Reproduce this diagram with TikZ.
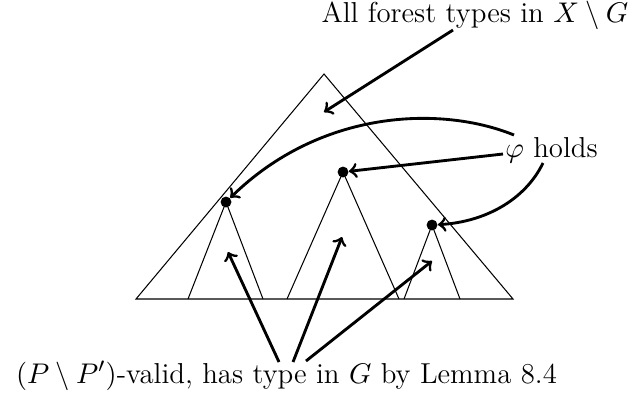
\documentclass[tikz,border=0pt]{standalone}
\begin{document}
\begin{tikzpicture}[x=0.385pt,y=-0.385pt,
  every node/.style={font=\fontsize{11.1pt}{13.5pt}\selectfont},
  lbl/.style={inner sep=0pt,anchor=base},
  thin line/.style={line width=0.4pt},
  pointer/.style={line width=1.1pt,->},
  dot/.style={circle,fill=black,inner sep=0pt,minimum size=4.2pt}]
\useasboundingbox (0,0) rectangle (634,396);
% big triangle
\coordinate (A) at (324,74);
\coordinate (BL) at (136,299);
\coordinate (BR) at (513,299);
\draw[thin line] (BL) -- (A) -- (BR) -- cycle;
% sub triangles
\node[dot] (d1) at (226,202) {};
\node[dot] (d2) at (343,172) {};
\node[dot] (d3) at (432,225) {};
\draw[thin line] (188,299) -- (d1.center) -- (263,299);
\draw[thin line] (287,299) -- (d2.center) -- (399,299);
\draw[thin line] (404,299) -- (d3.center) -- (460,299);
% labels
\node[lbl] (top) at (475,22) {All forest types in $X\setminus G$};
\node[lbl] (phi) at (551.5,157) {$\varphi$ holds};
\node[lbl] (bot) at (286.5,383) {$(P\setminus P')$-valid, has type in $G$ by Lemma 8.4};
% arrow targets
\coordinate (tA) at (324,112);
\coordinate (t1) at (228,252);
\coordinate (t2) at (342,237);
\coordinate (t3) at (432,261);
\coordinate (s0) at (453,30);
\coordinate (s1) at (514,135);
\coordinate (s2) at (503,154);
\coordinate (s3) at (543,163);
\coordinate (b1) at (279,362);
\coordinate (b2) at (293,362);
\coordinate (b3) at (306,361);
% arrows
\draw[pointer] (s0) -- (tA);
\draw[pointer] (s1) .. controls (440,105) and (320,110) .. (d1);
\draw[pointer] (s2) -- (d2);
\draw[pointer] (s3) .. controls (525,200) and (485,222) .. (d3);
\draw[pointer] (b1) -- (t1);
\draw[pointer] (b2) -- (t2);
\draw[pointer] (b3) -- (t3);
\end{tikzpicture}
\end{document}
